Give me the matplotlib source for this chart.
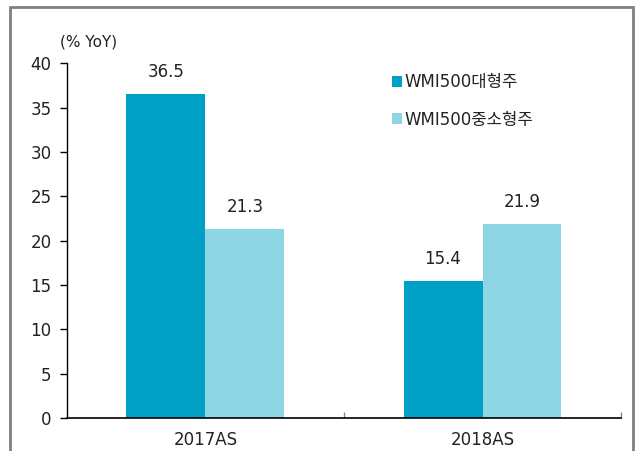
import matplotlib
matplotlib.use("Agg")
import matplotlib.pyplot as plt
from matplotlib.patches import Rectangle
import numpy as np

plt.rcParams['font.family'] = ['DejaVu Sans', 'Noto Sans CJK KR']

categories = ["2017AS", "2018AS"]
series_names = ["WMI500대형주", "WMI500중소형주"]
large_cap = [36.5, 15.4]
small_mid_cap = [21.3, 21.9]
colors = ["#00A0C6", "#8FD6E5"]
text_color = "#222222"

fig = plt.figure(figsize=(6.37, 4.51), dpi=100)
ax = fig.add_axes([0.105, 0.073, 0.870, 0.787])

x = np.arange(len(categories))
w = 0.285
b1 = ax.bar(x - w / 2, large_cap, w, color=colors[0], label=series_names[0])
b2 = ax.bar(x + w / 2, small_mid_cap, w, color=colors[1], label=series_names[1])

for bars, vals in ((b1, large_cap), (b2, small_mid_cap)):
    for r, v in zip(bars, vals):
        ax.annotate(f"{v:.1f}", (r.get_x() + r.get_width() / 2, v),
                    xytext=(0, 16), textcoords="offset points",
                    ha="center", va="center", fontsize=12, color=text_color)

ax.set_xlim(-0.5, 1.5)
ax.set_ylim(0, 40)
ax.set_yticks(np.arange(0, 41, 5))
ax.tick_params(axis="y", direction="out", length=5, width=1, labelsize=12, pad=6,
               colors="black", labelcolor=text_color)
ax.set_xticks(x)
ax.set_xticklabels(categories)
ax.tick_params(axis="x", length=0, labelsize=12, pad=9, labelcolor=text_color)
ax.set_xticks([0.5, 1.5], minor=True)
ax.tick_params(axis="x", which="minor", direction="in", length=4, width=1, color="#888888")
for s in ("top", "right"):
    ax.spines[s].set_visible(False)
ax.spines["left"].set_linewidth(1)
ax.spines["bottom"].set_linewidth(1.2)

fig.text(0.094, 0.907, "(% YoY)", fontsize=11, color=text_color, ha="left", va="center")

leg = ax.legend(loc="upper left", bbox_to_anchor=(0.575, 0.99), frameon=False,
                fontsize=12, handlelength=0.6, handleheight=0.6, handletextpad=0.15,
                labelspacing=1.15, borderaxespad=0)
for t in leg.get_texts():
    t.set_color(text_color)

fig.add_artist(Rectangle((0.016, -0.05), 0.978, 1.034, transform=fig.transFigure,
                         fill=False, edgecolor="#808080", linewidth=2))

fig.savefig("out.png", dpi=100)
